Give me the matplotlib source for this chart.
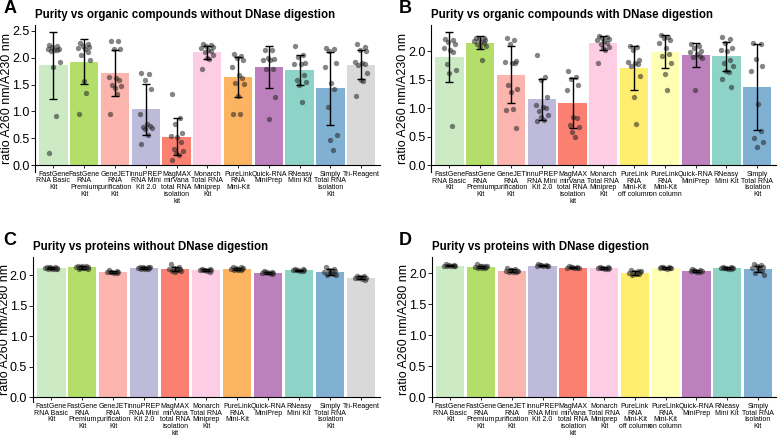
import matplotlib
matplotlib.use("Agg")
import matplotlib.pyplot as plt
import numpy as np

plt.rcParams['font.family'] = ['Liberation Sans', 'DejaVu Sans']

# kit names (x tick labels)
kits_noDN = ["FastGene\nRNA Basic\nKit", "FastGene\nRNA\nPremium\nKit", "GeneJET\nRNA\npurification\nKit",
             "innuPREP\nRNA Mini\nKit 2.0", "MagMAX\nmirVana\ntotal RNA\nisolation\nkit",
             "Monarch\nTotal RNA\nMiniprep\nKit", "PureLink\nRNA\nMini-Kit", "Quick-RNA\nMiniPrep",
             "RNeasy\nMini Kit", "Simply\nTotal RNA\nIsolation\nKit", "Tri-Reagent"]
kits_DN = ["FastGene\nRNA Basic\nKit", "FastGene\nRNA\nPremium\nKit", "GeneJET\nRNA\npurification\nKit",
           "innuPREP\nRNA Mini\nKit 2.0", "MagMAX\nmirVana\ntotal RNA\nisolation\nkit",
           "Monarch\nTotal RNA\nMiniprep\nKit", "PureLink\nRNA\nMini-Kit\noff column",
           "PureLink\nRNA\nMini-Kit\non column", "Quick-RNA\nMiniPrep", "RNeasy\nMini Kit",
           "Simply\nTotal RNA\nIsolation\nKit"]

colors_noDN = ["#ccebc5", "#b3de69", "#fbb4ae", "#bebada", "#fb8072", "#fccde5",
               "#fdb462", "#bc80bd", "#8dd3c7", "#80b1d3", "#d9d9d9"]
colors_DN = ["#ccebc5", "#b3de69", "#fbb4ae", "#bebada", "#fb8072", "#fccde5",
             "#ffed6f", "#ffffb3", "#bc80bd", "#8dd3c7", "#80b1d3"]

# A: 260/230 without DNase
mean_A = [1.86, 1.93, 1.71, 1.04, 0.53, 2.10, 1.64, 1.83, 1.77, 1.43, 1.87]
sd_A = [0.63, 0.42, 0.43, 0.48, 0.35, 0.12, 0.37, 0.39, 0.28, 0.68, 0.27]
pts_A = [
    [2.24, 2.22, 2.2, 2.17, 2.16, 2.15, 2.14, 2.12, 1.93, 1.82, 0.92, 0.23],
    [2.27, 2.25, 2.22, 2.2, 2.18, 2.16, 2.11, 2.05, 1.96, 1.57, 1.35, 0.95],
    [2.32, 2.31, 2.17, 2.16, 1.64, 1.62, 1.58, 1.5, 1.48, 1.43, 1.32, 0.96],
    [1.72, 1.69, 1.59, 1.42, 0.95, 0.76, 0.73, 0.71, 0.7, 0.67, 0.56, 0.39],
    [1.33, 0.87, 0.77, 0.6, 0.55, 0.52, 0.43, 0.3, 0.26, 0.22, 0.18, 0.1],
    [2.25, 2.24, 2.22, 2.2, 2.18, 2.15, 2.12, 2.1, 2.05, 2.0, 1.97, 1.8],
    [2.07, 2.04, 2.0, 1.96, 1.82, 1.67, 1.62, 1.53, 1.52, 1.28, 0.96, 0.95],
    [2.15, 2.14, 2.0, 1.98, 1.96, 1.95, 1.8, 1.79, 1.26, 0.85],
    [2.22, 2.05, 2.02, 1.91, 1.89, 1.88, 1.68, 1.59, 1.55, 1.5, 1.18],
    [2.19, 2.17, 2.12, 1.9, 1.82, 1.53, 1.42, 1.09, 0.56, 0.46, 0.28],
    [2.25, 2.21, 2.14, 2.13, 1.93, 1.9, 1.88, 1.86, 1.72, 1.58, 1.57, 1.29],
]

# B: 260/230 with DNase
mean_B = [1.90, 2.15, 1.59, 1.16, 1.09, 2.15, 1.71, 1.99, 1.93, 1.91, 1.37]
sd_B = [0.44, 0.11, 0.50, 0.36, 0.44, 0.12, 0.39, 0.29, 0.21, 0.26, 0.75]
pts_B = [
    [2.22, 2.2, 2.17, 2.12, 2.05, 2.02, 1.99, 1.78, 1.67, 1.61, 0.68],
    [2.24, 2.23, 2.22, 2.2, 2.18, 2.17, 2.15, 2.13, 2.1, 2.08, 1.85],
    [2.24, 2.2, 2.13, 1.83, 1.81, 1.8, 1.79, 1.4, 1.33, 1.28, 0.98, 0.97, 0.66],
    [1.93, 1.55, 1.5, 1.2, 1.05, 1.02, 1.0, 0.95, 0.88, 0.85, 0.8, 0.78],
    [1.66, 1.55, 1.52, 1.4, 1.32, 0.85, 0.82, 0.7, 0.67, 0.58, 0.5],
    [2.27, 2.25, 2.24, 2.22, 2.2, 2.18, 2.15, 2.12, 2.08, 2.05, 2.02, 1.8],
    [2.1, 2.08, 2.02, 1.85, 1.82, 1.8, 1.78, 1.75, 1.56, 1.2, 0.73],
    [2.28, 2.25, 2.24, 2.2, 2.15, 2.06, 1.95, 1.92, 1.8, 1.6, 1.32],
    [2.12, 2.1, 2.05, 2.0, 1.98, 1.95, 1.92, 1.9, 1.88, 1.32],
    [2.25, 2.22, 2.15, 2.05, 2.02, 2.0, 1.85, 1.8, 1.75, 1.65, 1.63, 1.52, 1.38],
    [2.14, 2.13, 1.86, 1.75, 1.65, 1.08, 0.6, 0.48, 0.4, 0.32],
]

# C: 260/280 without DNase
mean_C = [2.12, 2.13, 2.05, 2.12, 2.10, 2.08, 2.10, 2.04, 2.08, 2.05, 1.96]
sd_C = [0.015, 0.02, 0.015, 0.015, 0.03, 0.015, 0.02, 0.015, 0.012, 0.045, 0.02]
pts_C = [
    [2.14, 2.13, 2.13, 2.12, 2.12, 2.11, 2.11, 2.1, 2.1, 2.12],
    [2.16, 2.15, 2.14, 2.14, 2.13, 2.12, 2.12, 2.11, 2.1, 2.15],
    [2.08, 2.07, 2.06, 2.05, 2.05, 2.04, 2.03, 2.06],
    [2.14, 2.14, 2.13, 2.12, 2.12, 2.11, 2.11, 2.1, 2.13, 2.12],
    [2.18, 2.14, 2.12, 2.11, 2.1, 2.09, 2.08, 2.07, 2.07, 2.06, 2.1],
    [2.1, 2.1, 2.09, 2.08, 2.08, 2.07, 2.06, 2.09],
    [2.14, 2.13, 2.12, 2.11, 2.1, 2.09, 2.08, 2.08, 2.12, 2.1],
    [2.07, 2.06, 2.05, 2.04, 2.04, 2.03, 2.02, 2.05],
    [2.1, 2.1, 2.09, 2.08, 2.08, 2.07, 2.07, 2.09],
    [2.13, 2.11, 2.09, 2.07, 2.05, 2.03, 2.02, 2.0, 2.01, 2.06],
    [1.99, 1.98, 1.97, 1.96, 1.95, 1.94, 1.93, 1.96],
]

# D: 260/280 with DNase
mean_D = [2.12, 2.10, 2.04, 2.12, 2.09, 2.08, 2.00, 2.08, 2.04, 2.08, 2.07]
sd_D = [0.012, 0.02, 0.02, 0.01, 0.012, 0.015, 0.03, 0.012, 0.015, 0.012, 0.05]
pts_D = [
    [2.14, 2.13, 2.13, 2.12, 2.12, 2.11, 2.11, 2.12],
    [2.14, 2.12, 2.11, 2.1, 2.1, 2.09, 2.08, 2.08, 2.11, 2.12],
    [2.08, 2.06, 2.05, 2.04, 2.03, 2.02, 2.02, 2.01, 2.04, 2.05],
    [2.14, 2.13, 2.13, 2.12, 2.12, 2.11, 2.11, 2.13],
    [2.11, 2.1, 2.1, 2.09, 2.09, 2.08, 2.08, 2.1],
    [2.1, 2.1, 2.09, 2.08, 2.08, 2.07, 2.06, 2.09],
    [2.05, 2.04, 2.02, 2.01, 2.0, 1.99, 1.98, 1.97, 2.03],
    [2.1, 2.1, 2.09, 2.08, 2.08, 2.07, 2.09, 2.1],
    [2.06, 2.05, 2.04, 2.04, 2.03, 2.02, 2.02, 2.05],
    [2.1, 2.1, 2.09, 2.08, 2.08, 2.07, 2.07, 2.09, 2.08],
    [2.14, 2.13, 2.12, 2.1, 2.08, 2.06, 2.04, 2.0, 1.97, 2.09],
]

# fixed horizontal jitter pattern for the dots
jit = [-0.14, 0.11, -0.04, 0.17, -0.19, 0.03, 0.13, -0.09, 0.2, -0.01, 0.07, -0.16, 0.15]

W, H = 778, 440


def panel(ax, labels, cols, means, sds, pts, title, ylabel, ylim, yticks, letter, lx):
    # spine position first, it resets the tick objects
    ax.spines[["top", "right"]].set_visible(False)
    ax.spines["bottom"].set_position(("data", 0))
    x = np.arange(len(labels))
    ax.bar(x, means, width=0.92, color=cols, zorder=1)
    for i, p in enumerate(pts):
        xs = [i + jit[k % len(jit)] for k in range(len(p))]
        ax.scatter(xs, p, s=15, color="#222222", alpha=0.55, lw=0, zorder=2)
    ax.errorbar(x, means, yerr=sds, fmt="none", ecolor="black", elinewidth=1.0,
                capsize=3.2, capthick=1.0, zorder=3)
    ax.set_xlim(-0.6, len(labels) - 0.4)
    ax.set_ylim(*ylim)
    ax.set_yticks(yticks)
    ax.set_yticklabels([f"{v:.1f}" for v in yticks], fontsize=9)
    ax.set_xticks(x)
    ax.set_xticklabels(labels, fontsize=5.0, linespacing=0.95)
    ax.tick_params(axis="y", length=3, width=0.6, pad=1)
    ax.tick_params(axis="x", length=2, width=0.6, pad=2)
    ax.set_ylabel(ylabel, fontsize=9)
    # put y label right edge ~22 px left of the spine
    wpx = ax.get_position().width * W
    ax.yaxis.set_label_coords(-22 / wpx, 0.5)
    ax.set_title(title, loc="left", fontsize=8.3, fontweight="bold", pad=5)
    fig.text(lx, ax.get_position().y1 + 0.018, letter, fontsize=13, fontweight="bold",
             va="bottom", ha="left")


fig = plt.figure(figsize=(7.78, 4.4), dpi=100)
axA = fig.add_axes([0.045, 0.609, 0.443, 0.334])
axB = fig.add_axes([0.554, 0.609, 0.443, 0.334])
axC = fig.add_axes([0.042, 0.086, 0.446, 0.330])
axD = fig.add_axes([0.555, 0.086, 0.443, 0.330])

yt5 = [0.0, 0.5, 1.0, 1.5, 2.0, 2.5]
yt4 = [0.0, 0.5, 1.0, 1.5, 2.0]
panel(axA, kits_noDN, colors_noDN, mean_A, sd_A, pts_A,
      "Purity vs organic compounds without DNase digestion", "ratio A260 nm/A230 nm",
      (-0.13, 2.61), yt5, "A", 0.004)
panel(axB, kits_DN, colors_DN, mean_B, sd_B, pts_B,
      "Purity vs organic compounds with DNase digestion", "ratio A260 nm/A230 nm",
      (-0.12, 2.46), yt4, "B", 0.513)
panel(axC, kits_noDN, colors_noDN, mean_C, sd_C, pts_C,
      "Purity vs proteins without DNase digestion", "ratio A260 nm/A280 nm",
      (-0.08, 2.30), yt4, "C", 0.004)
panel(axD, kits_DN, colors_DN, mean_D, sd_D, pts_D,
      "Purity vs proteins with DNase digestion", "ratio A260 nm/A280 nm",
      (-0.08, 2.26), yt4, "D", 0.513)

fig.savefig("out.png", dpi=100)
